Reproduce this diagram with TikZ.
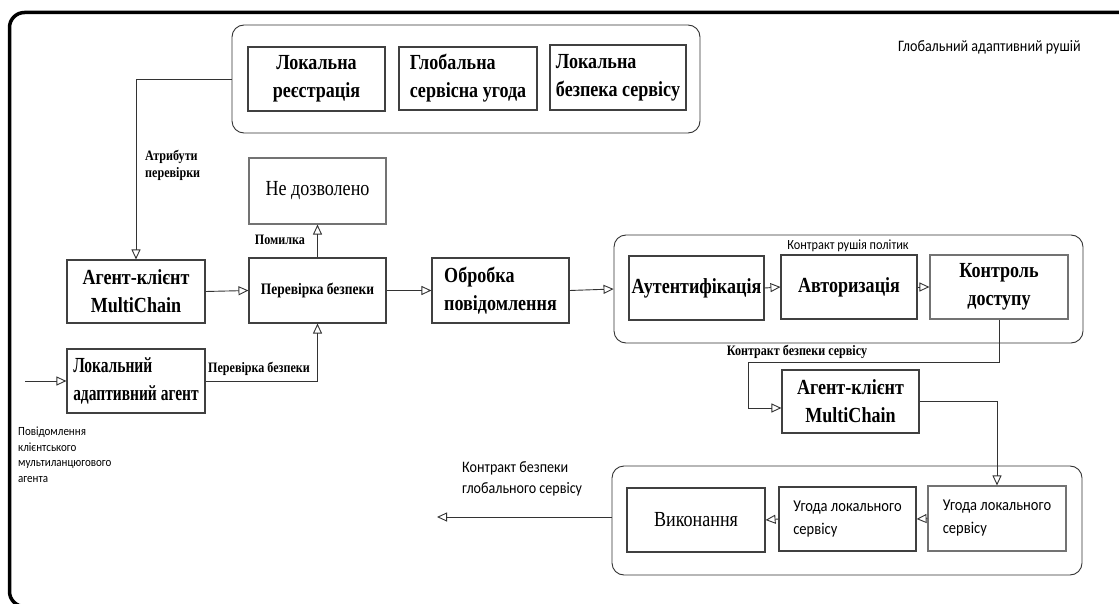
\documentclass[tikz,border=0pt]{standalone}
\usepackage{fontspec}
\setmainfont{Liberation Serif}
\newfontfamily\tallserif[FakeStretch=0.84]{Liberation Serif}
\newfontfamily\narrowserif[FakeStretch=0.72]{Liberation Serif}
\newfontfamily\tallsans[FakeStretch=0.88]{Carlito}
\usetikzlibrary{arrows.meta,calc}
\begin{document}
\begin{tikzpicture}[x=1pt,y=-1pt,
  box/.style={draw=black!75, line width=1.1pt, inner sep=0pt, align=center,
    font=\tallserif\bfseries\fontsize{21.5}{28}\selectfont},
  plainbox/.style={box, font=\tallserif\fontsize{21.5}{28}\selectfont},
  smallbox/.style={box, font=\tallserif\bfseries\fontsize{16}{18}\selectfont},
  sansbox/.style={box, align=left, font=\tallsans\fontsize{16.5}{23}\selectfont},
  group/.style={draw=black!80, line width=0.9pt, rounded corners=12pt, inner sep=0pt},
  arr/.style={draw=black!80, line width=0.9pt,
    -{Triangle[open, length=10pt, width=9pt]}},
  lbl/.style={font=\tallserif\bfseries\fontsize{14.4}{17}\selectfont, inner sep=0pt, align=left},
  slbl/.style={font=\tallsans\fontsize{16}{21}\selectfont, inner sep=0pt, align=left},
]
\useasboundingbox (0,0) rectangle (1119,604);
\fill[white] (0,0) rectangle (1119,604);
\begin{scope}
  \clip (0,0) rectangle (1119,604);
  \draw[line width=3.5pt, rounded corners=15pt] (9.5,12.5) rectangle (1140,606.5);
\end{scope}

% top: registry group
\node[group, minimum width=468pt, minimum height=108pt] (topgroup) at (466,79) {};
\node[box, minimum width=137pt, minimum height=64pt] (reg) at (316.5,79) {Локальна\\реєстрація};
\node[box, minimum width=138pt, minimum height=63pt, align=left] (glob) at (468,78.5) {Глобальна\\сервісна угода};
\node[box, minimum width=136pt, minimum height=65pt, align=left] (locsec) at (618,77.5) {Локальна\\безпека сервісу};
\node[slbl, anchor=west] (title) at (898,47) {Глобальний адаптивний рушій};

% left column
\node[plainbox, draw=black!55, minimum width=137pt, minimum height=66pt] (deny) at (317.5,191) {Не дозволено};
\node[box, minimum width=138pt, minimum height=63pt] (agent1) at (136,291.5) {Агент-клієнт\\MultiChain};
\node[smallbox, minimum width=137pt, minimum height=65pt] (check) at (317.5,290.5) {Перевірка безпеки};
\node[box, minimum width=137pt, minimum height=65pt, align=left] (proc) at (500.5,290.5) {Обробка\\повідомлення};
\node[box, minimum width=138pt, minimum height=64pt, align=left,
  font=\narrowserif\bfseries\fontsize{21.5}{28}\selectfont] (local) at (136,381) {Локальний\\адаптивний агент};
\coordinate (inmsg) at (25,381);

\node[lbl, anchor=north west] (attr) at (145,150) {Атрибути\\перевірки};
\node[lbl] (err) at (280,240) {Помилка};
\node[lbl] (chk) at (259,369) {Перевірка безпеки};
\node[font=\tallsans\fontsize{12.5}{15.5}\selectfont, inner sep=0pt, align=left, anchor=north west] (msg) at (18,427)
  {Повідомлення\\клієнтського\\мультиланцюгового\\агента};

% policy engine group
\node[group, minimum width=469pt, minimum height=108pt] (rgroup) at (848.5,289) {};
\node[font=\tallsans\fontsize{14}{16}\selectfont, inner sep=0pt] (policy) at (848,246) {Контракт рушія політик};
\node[box, minimum width=135pt, minimum height=64pt] (auth) at (696.5,288) {Аутентифікація};
\node[box, minimum width=136pt, minimum height=64pt] (authz) at (849,287) {Авторизація};
\node[box, draw=black!55, minimum width=138pt, minimum height=64pt] (access) at (999,287) {Контроль\\доступу};
\node[lbl] (svc) at (797,352) {Контракт безпеки сервісу};
\node[box, minimum width=137pt, minimum height=63pt] (agent2) at (850.5,401.5) {Агент-клієнт\\MultiChain};
\coordinate (bendA) at (748,362);
\coordinate (bendB) at (748,408);

% execution group
\node[group, minimum width=470pt, minimum height=109pt] (bgroup) at (847,520.5) {};
\node[plainbox, minimum width=138pt, minimum height=64pt] (exec) at (696,520) {Виконання};
\node[sansbox, minimum width=137pt, minimum height=64pt] (agr1) at (847.5,519) {Угода локального\\сервісу};
\node[sansbox, draw=black!55, minimum width=138pt, minimum height=65pt] (agr2) at (997,518.5) {Угода локального\\сервісу};
\node[slbl, anchor=north west] (glb) at (462,461) {Контракт безпеки\\глобального сервісу};
\coordinate (outmsg) at (437,517);

% connectors
\draw[arr] (topgroup.west) -| (agent1.north);
\draw[arr] (check.north) -- (deny.south);
\draw[arr] (agent1.east) -- (check.west);
\draw[arr] (check.east) -- (proc.west);
\draw[arr] (inmsg) -- (local.west);
\draw[arr] (local.east) -| (check.south);
\draw[arr] (proc.east) -- (rgroup.west);
\draw[arr] (auth.east) -- (authz.west);
\draw[arr] (authz.east) -- (access.west);
\draw[arr] (access.south) |- (bendA) -- (bendB) -- (bendB -| agent2.west);
\draw[arr] (agent2.east) -| (agr2.north);
\draw[arr] (agr2.west) -- (agr1.east);
\draw[arr] (agr1.west) -- (exec.east);
\draw[arr] (bgroup.west |- outmsg) -- (outmsg);
\end{tikzpicture}
\end{document}
